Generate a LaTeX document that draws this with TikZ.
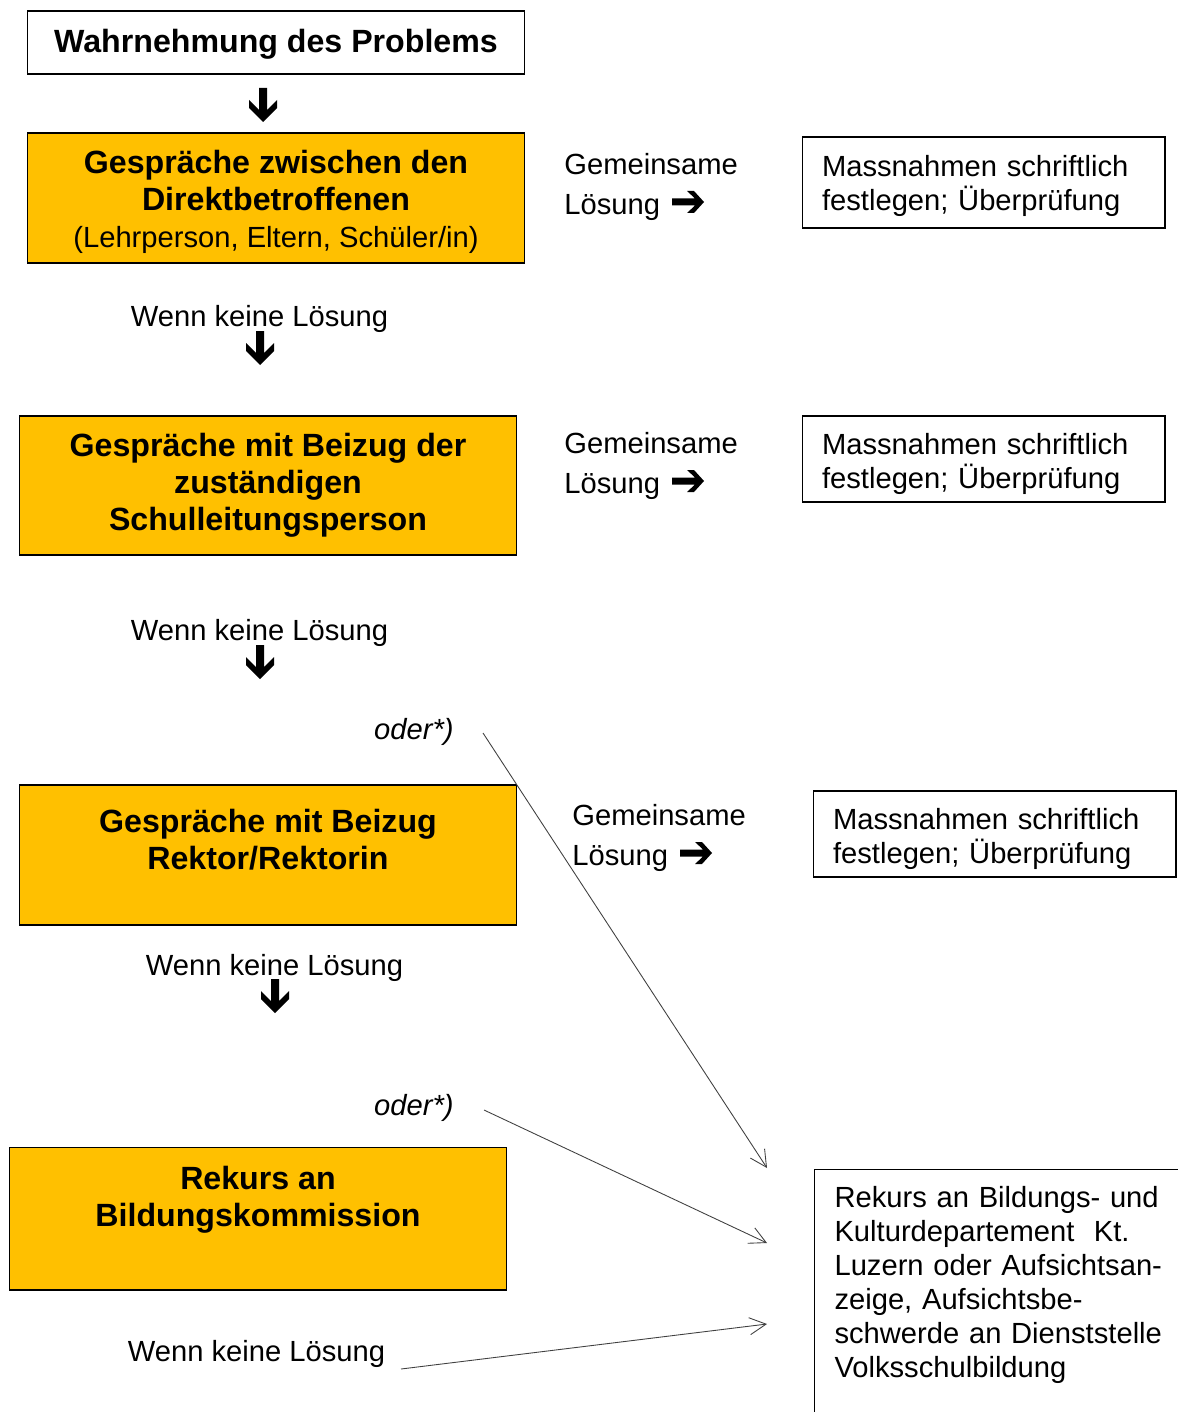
\documentclass[tikz,border=0pt]{standalone}
\usepackage{fontspec}
\setmainfont{Liberation Sans}
\usetikzlibrary{arrows.meta}
\definecolor{gold}{HTML}{FFC000}
\definecolor{linegray}{HTML}{404040}

% block arrows as in the original (Wingdings-like)
\tikzset{
  pics/dnarrow/.style={code={\fill (0,0) -- (14,-14) -- (14,-22) -- (4,-12) -- (4,-34) -- (-4,-34) -- (-4,-12) -- (-14,-22) -- (-14,-14) -- cycle;}},
  pics/rtarrow/.style={code={\fill (0,0) -- (-10,-11) -- (-17,-11) -- (-9,-3.5) -- (-32,-3.5) -- (-32,3.5) -- (-9,3.5) -- (-17,11) -- (-10,11) -- cycle;}}
}

\begin{document}
\begin{tikzpicture}[x=0.02cm,y=-0.02cm,
  titlebox/.style={draw,line width=0.6pt,minimum width=9.96cm,minimum height=1.26cm,font=\bfseries\fontsize{18.3}{21}\selectfont},
  stepbox/.style={draw,line width=0.6pt,fill=gold,minimum width=9.96cm,align=center,font=\bfseries\fontsize{18.3}{21}\selectfont},
  notebox/.style={draw,line width=0.6pt,text width=6.46cm,inner xsep=0.4cm,align=left,font=\fontsize{16.6}{19.3}\selectfont},
  plain/.style={inner sep=0pt,font=\fontsize{16.6}{22.7}\selectfont},
  oderlabel/.style={inner sep=0pt,anchor=east,font=\itshape\fontsize{16.6}{22.7}\selectfont},
  thinarrow/.style={draw=linegray,line width=0.5pt,-{Straight Barb[length=0.33cm,width=0.34cm]}}]

\useasboundingbox (0,0) rectangle (1177,1412);

% left column
\node[titlebox] (prob) at (276,42.5) {\rule{0pt}{15.6pt}Wahrnehmung des Problems};
\node[stepbox,minimum height=2.6cm] (direkt) at (276,198) {\rule{0pt}{17.8pt}Gespräche zwischen den\\Direktbetroffenen\\{\mdseries\fontsize{16.6}{21}\selectfont (Lehrperson, Eltern, Schüler/in)}};
\node[stepbox,minimum height=2.78cm] (schulleitung) at (268,485.5) {Gespräche mit Beizug der\\zuständigen\\Schulleitungsperson};
\node[stepbox,minimum height=2.8cm] (rektor) at (268,855) {\rule{0pt}{16.8pt}Gespräche mit Beizug\\Rektor/Rektorin\\\mbox{}};
\node[stepbox,minimum height=2.86cm] (bildung) at (258,1218.5) {Rekurs an\\Bildungskommission\\\rule[-4.5pt]{0pt}{4.5pt}};

\node[plain] (wenn1) at (259.5,319) {Wenn keine Lösung};
\node[plain] (wenn2) at (259.5,633) {Wenn keine Lösung};
\node[plain] (wenn3) at (274.5,968) {Wenn keine Lösung};
\node[plain] (wenn4) at (256.5,1354) {Wenn keine Lösung};

\pic at (263,122) {dnarrow};
\pic at (260,365) {dnarrow};
\pic at (260,679) {dnarrow};
\pic at (275,1013) {dnarrow};

\node[oderlabel] (oder1) at (454,732) {oder*)};
\node[oderlabel] (oder2) at (454,1108) {oder*)};

% middle column
\node[plain,anchor=west,align=left] (loes1) at (564,187) {Gemeinsame\\Lösung};
\node[plain,anchor=west,align=left] (loes2) at (564,466) {Gemeinsame\\Lösung};
\node[plain,anchor=west,align=left] (loes3) at (572,838) {Gemeinsame\\Lösung};
\pic at (704,202) {rtarrow};
\pic at (704,481) {rtarrow};
\pic at (712,853) {rtarrow};

% right column
\node[notebox,minimum height=1.82cm] (mass1) at (983.5,182.5) {\rule{0pt}{15.5pt}Massnahmen schriftlich\\festlegen; Überprüfung};
\node[notebox,minimum height=1.72cm] (mass2) at (983.5,459) {\rule{0pt}{17.8pt}Massnahmen schriftlich\\festlegen; Überprüfung};
\node[notebox,minimum height=1.72cm] (mass3) at (994.5,834) {\rule{0pt}{17.8pt}Massnahmen schriftlich\\festlegen; Überprüfung};
\node[draw,line width=0.6pt,anchor=north west,text width=7.4cm,inner xsep=0.4cm,inner ysep=0.34cm,align=left,font=\fontsize{16.6}{19.3}\selectfont] (rekurs) at (814,1169) {Rekurs an Bildungs- und\\Kulturdepartement\ \ Kt.\\Luzern oder Aufsichtsan-\\zeige, Aufsichtsbe-\\schwerde an Dienststelle\\Volksschulbildung\\\mbox{}\\\mbox{}};

% thin arrows to the last instance
\coordinate (a1s) at (483,733);
\coordinate (a1e) at (767,1168);
\coordinate (a2s) at (484,1110);
\coordinate (a2e) at (767,1243);
\coordinate (a3s) at (401,1369);
\coordinate (a3e) at (767,1324);
\draw[thinarrow] (a1s) -- (a1e);
\draw[thinarrow] (a2s) -- (a2e);
\draw[thinarrow] (a3s) -- (a3e);
\end{tikzpicture}
\end{document}
